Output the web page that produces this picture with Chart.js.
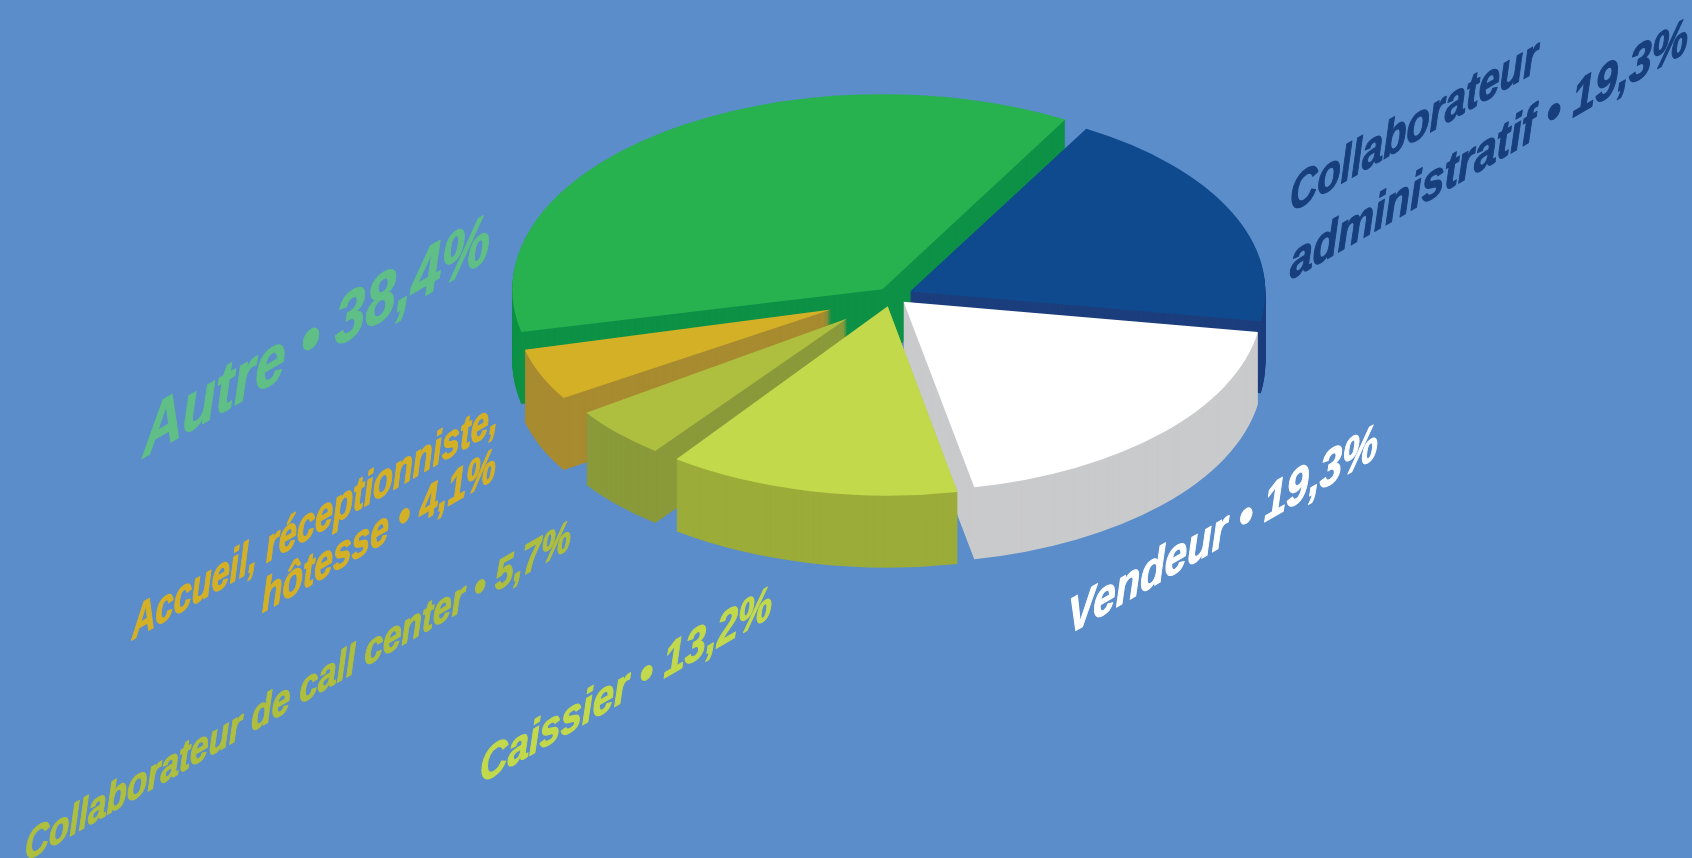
<!DOCTYPE html>
<html lang="fr">
<head>
<meta charset="utf-8">
<title>Répartition des métiers</title>
<script src="https://cdn.jsdelivr.net/npm/chart.js@4/dist/chart.umd.min.js"></script>
<style>
    html, body { margin: 0; padding: 0; background: #5a8dc9; overflow: hidden; }
    #zone { width: 1692px; height: 858px; }
</style>
</head>
<body>
<div id="zone"><canvas id="chartMetiers"></canvas></div>
<script>
// Données
const metiers = ['Collaborateur administratif', 'Vendeur', 'Caissier', 'Collaborateur de call center', 'Accueil, réceptionniste, hôtesse', 'Autre'];
const valeurs = [19.3, 19.3, 13.2, 5.7, 4.1, 38.4];

// Couleurs : dessus et tranche de chaque part
const couleurs = ['#104a8e', '#ffffff', '#c2d94b', '#aebe3f', '#d4b027', '#27b24f'];
const couleursTranche = ['#1c3e7d', '#c9cacc', '#9cac39', '#8a9a3a', '#a88b30', '#0d9146'];

// Réglages de la perspective
const decalages = [20, 16, 20, 62, 66, 16];
const rayons = [354, 358, 354, 276, 273, 366];
const ordreDessin = [5, 0, 1, 4, 3, 2];
const centreX = 892;
const centreY = 296;
const aplatissement = 0.527;
const epaisseur = 72;
// Sur l'image, la limite Accueil / Autre n'est pas tout à fait proportionnelle
const correctionLimite = 5.8 * Math.PI / 180;

// Étiquettes : une ligne = texte, départ de la ligne de base, largeur, taille
const etiquettes = [
    { texte: 'Autre • 38,4%', x: 143, y: 458, largeur: 347, taille: 68, couleur: '#5fbf87' },
    { texte: 'Accueil, réceptionniste,', x: 132, y: 640, largeur: 366, taille: 46, couleur: '#d4b027' },
    { texte: 'hôtesse • 4,1%', x: 262, y: 613, largeur: 234, taille: 46, couleur: '#d4b027' },
    { texte: 'Collaborateur de call center • 5,7%', x: 25, y: 862, largeur: 546, taille: 42, couleur: '#aebe3f' },
    { texte: 'Caissier • 13,2%', x: 480, y: 784, largeur: 292, taille: 46, couleur: '#c2d94b' },
    { texte: 'Vendeur • 19,3%', x: 1068, y: 635, largeur: 310, taille: 50, couleur: '#ffffff' },
    { texte: 'Collaborateur', x: 1290, y: 213, largeur: 248, taille: 50, couleur: '#183f7d' },
    { texte: 'administratif • 19,3%', x: 1290, y: 280, largeur: 398, taille: 50, couleur: '#183f7d' }
];

// Plugin : parts aplaties avec leur tranche, puis textes inclinés
const pluginPerspective = {
    id: 'perspective',
    afterDatasetsUpdate(chart) {
        const arcs = chart.getDatasetMeta(0).data;
        arcs.forEach((arc, i) => {
            arc.outerRadius = rayons[i];
        });
        arcs[4].endAngle += correctionLimite;
        arcs[4].circumference += correctionLimite;
        arcs[5].startAngle += correctionLimite;
        arcs[5].circumference -= correctionLimite;
    },
    beforeDatasetsDraw(chart) {
        const ctx = chart.ctx;
        const arcs = chart.getDatasetMeta(0).data;

        ordreDessin.forEach(i => {
            const arc = arcs[i];
            const optionsDessus = arc.options;
            const optionsTranche = Object.assign({}, optionsDessus, {
                backgroundColor: couleursTranche[i]
            });

            arc.options = optionsTranche;
            for (let d = epaisseur; d >= 1; d--) {
                dessinerPart(ctx, arc, d);
            }
            arc.options = optionsDessus;
            dessinerPart(ctx, arc, 0);
        });

        etiquettes.forEach(e => dessinerEtiquette(ctx, e));
        return false;
    }
};

function dessinerPart(ctx, arc, d) {
    ctx.save();
    ctx.translate(centreX, centreY + d);
    ctx.scale(1, aplatissement);
    ctx.translate(-arc.x, -arc.y);
    arc.draw(ctx);
    ctx.restore();
}

function dessinerEtiquette(ctx, e) {
    ctx.save();
    ctx.font = 'italic bold ' + e.taille + 'px "Liberation Sans", sans-serif';
    ctx.textBaseline = 'alphabetic';
    ctx.textAlign = 'left';
    ctx.fillStyle = e.couleur;
    ctx.strokeStyle = e.couleur;
    ctx.lineWidth = 1.2;
    ctx.lineJoin = 'round';
    const echelle = e.largeur / ctx.measureText(e.texte).width;
    ctx.transform(echelle, -0.575 * echelle, 0, 1, e.x, e.y);
    ctx.strokeText(e.texte, 0, 0);
    ctx.fillText(e.texte, 0, 0);
    ctx.restore();
}

new Chart(document.getElementById('chartMetiers'), {
    type: 'pie',
    data: {
        labels: metiers,
        datasets: [{
            data: valeurs,
            backgroundColor: couleurs,
            borderWidth: 0,
            offset: decalages.map(d => d * 4)
        }]
    },
    options: {
        responsive: true,
        maintainAspectRatio: false,
        animation: false,
        rotation: 29.7,
        events: [],
        plugins: {
            legend: { display: false },
            tooltip: { enabled: false }
        }
    },
    plugins: [pluginPerspective]
});
</script>
</body>
</html>
